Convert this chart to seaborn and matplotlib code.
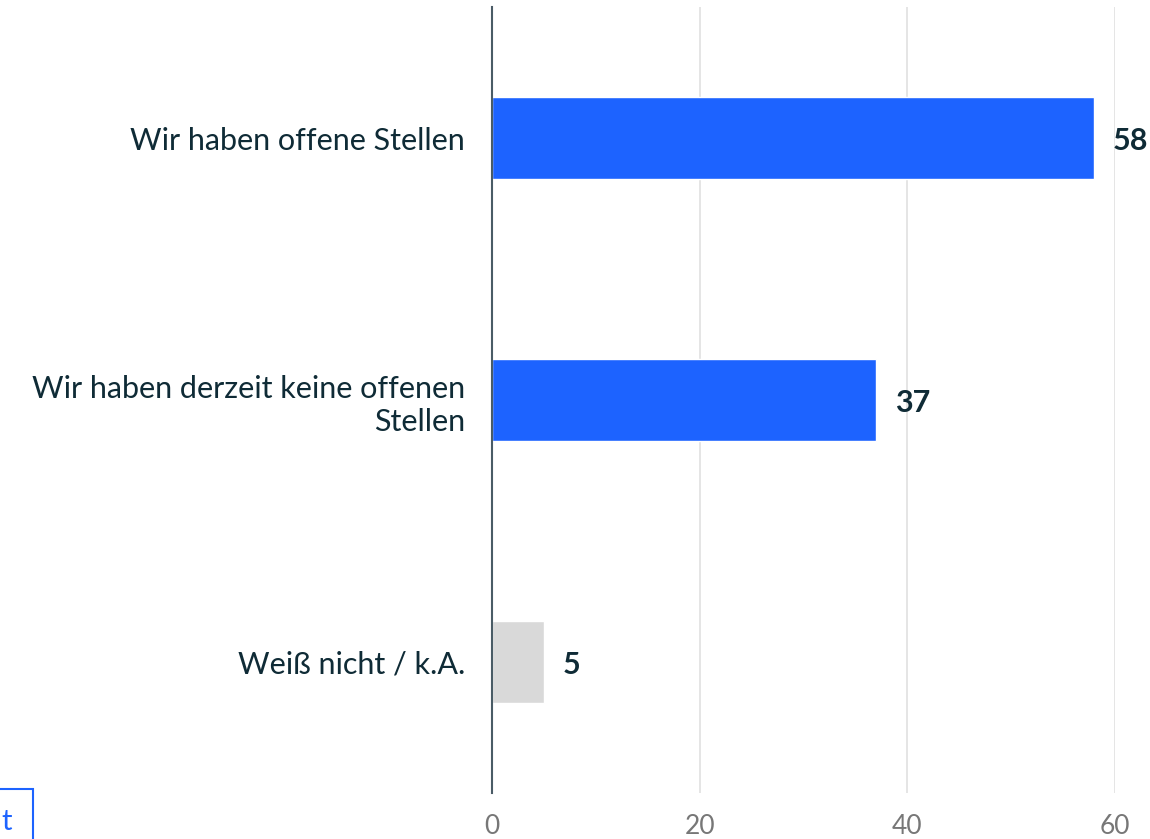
import matplotlib
matplotlib.use("Agg")
import matplotlib.pyplot as plt
import matplotlib.patches as mpatches
import pandas as pd
import seaborn as sns

# data
categories = ["Wir haben offene Stellen",
              "Wir haben derzeit keine offenen\nStellen",
              "Weiß nicht / k.A."]
values = [58, 37, 5]
bar_colors = ["#1d63ff", "#1d63ff", "#d9d9d9"]
x_ticks = [0, 20, 40, 60]

df = pd.DataFrame({"category": categories, "value": values})

sns.set_theme(style="white")
plt.rcParams["font.family"] = ["Lato", "DejaVu Sans"]

fig = plt.figure(figsize=(11.5, 8.39), dpi=100)
ax = fig.add_axes([492 / 1150, 1 - 793 / 839, (1115 - 492) / 1150, (793 - 7) / 839])

sns.barplot(data=df, x="value", y="category", hue="category", palette=bar_colors,
            legend=False, width=0.313, saturation=1, ax=ax, zorder=3)

ax.set_xlim(0, 60)
ax.set_ylim(2.5, -0.5)
ax.set_xticks(x_ticks)
ax.set_xlabel("")
ax.set_ylabel("")
ax.grid(axis="x", color="#e0e0e0", linewidth=1.2, zorder=0)
for s in ["top", "right", "bottom"]:
    ax.spines[s].set_visible(False)
ax.spines["left"].set_color("#4a5c66")
ax.spines["left"].set_linewidth(1.5)
ax.spines["left"].set_zorder(4)

ax.tick_params(axis="x", length=0, pad=15, labelsize=19, labelcolor="#777777")
ax.tick_params(axis="y", length=0, pad=19.5, labelsize=22, labelcolor="#0f2b36")
for lbl in ax.get_yticklabels():
    lbl.set_horizontalalignment("right")
    lbl.set_multialignment("right")
    lbl.set_linespacing(1.25)

for i, v in enumerate(values):
    ax.text(v + 1.8, i + 0.01, str(v), va="center", ha="left", fontsize=22,
            fontweight="bold", color="#0f2b36", clip_on=False)

# cropped button at the bottom left
fig.patches.append(mpatches.Rectangle((-40 / 1150, -20 / 839), 73 / 1150, 70 / 839,
                                      transform=fig.transFigure, fill=False,
                                      edgecolor="#1d63ff", linewidth=1.5))
fig.text(1 / 1150, 1 - 822 / 839, "t", color="#1d63ff", fontsize=21,
         ha="left", va="center")

fig.savefig("out.png", dpi=100)
